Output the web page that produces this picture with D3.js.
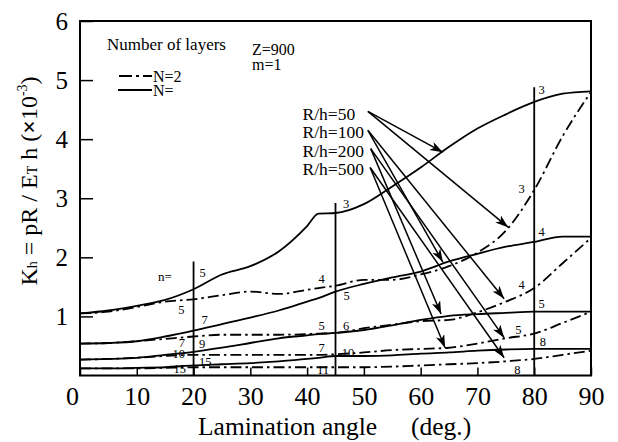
<!DOCTYPE html>
<html><head><meta charset="utf-8">
<script src="https://cdn.jsdelivr.net/npm/d3@7"></script>
<style>
body{margin:0;background:#fff}
svg{display:block}
text{font-family:"Liberation Serif","Times New Roman",serif;fill:#000}
</style>
</head><body>
<svg id="c" width="618" height="442"></svg>
<script>
// ---------- DATA ----------
const angles = [0,5,10,15,20,25,30,35,40,42,45,50,55,60,65,70,75,80,85,90];
// N = infinity (solid) and N = 2 (dash-dot), for each R/h
const rh50_solid   = [1.05,1.10,1.18,1.28,1.46,1.71,1.85,2.10,2.53,2.74,2.75,2.90,3.20,3.52,3.87,4.18,4.42,4.63,4.77,4.81];
const rh50_dash    = [1.05,1.08,1.16,1.25,1.29,1.36,1.42,1.38,1.45,1.48,1.52,1.62,1.62,1.71,1.85,2.08,2.45,3.14,4.05,4.80];
const rh100_solid  = [0.54,0.55,0.58,0.66,0.76,0.87,0.98,1.10,1.25,1.31,1.42,1.55,1.66,1.76,1.93,2.06,2.18,2.26,2.35,2.35];
const rh100_dash   = [0.54,0.55,0.58,0.62,0.66,0.69,0.69,0.69,0.70,0.71,0.72,0.80,0.86,0.92,0.94,1.07,1.25,1.48,1.90,2.33];
const rh200_solid  = [0.27,0.28,0.30,0.35,0.40,0.47,0.55,0.63,0.68,0.70,0.72,0.77,0.85,0.94,1.01,1.04,1.06,1.08,1.08,1.08];
const rh200_dash   = [0.27,0.28,0.30,0.33,0.35,0.35,0.35,0.35,0.35,0.35,0.36,0.39,0.43,0.45,0.47,0.54,0.63,0.71,0.89,1.08];
const rh500_solid  = [0.12,0.12,0.13,0.14,0.17,0.19,0.21,0.24,0.28,0.30,0.33,0.33,0.34,0.37,0.39,0.42,0.44,0.45,0.45,0.45];
const rh500_dash   = [0.12,0.12,0.12,0.13,0.14,0.14,0.14,0.14,0.14,0.14,0.14,0.14,0.15,0.17,0.19,0.21,0.24,0.28,0.35,0.42];

const xTicks = [0,10,20,30,40,50,60,70,80,90];
const yTicks = [1,2,3,4,5,6];

// vertical guide lines at marked angles (angle, top value)
const guideAngles = [20,45,80];
const guideTops = [1.93,2.92,4.88];

// wave-number labels (angle, value, text)
const nLabels = [
  [21.6,1.735,"5"],[17.84,1.109,"5"],[21.96,0.939,"7"],[17.96,0.555,"7"],
  [21.49,0.545,"9"],[17.38,0.364,"10"],[22.07,0.234,"15"],[17.56,0.122,"15"],
  [46.85,2.903,"3"],[42.57,1.645,"4"],[46.97,1.346,"5"],[42.57,0.838,"5"],
  [46.85,0.838,"6"],[42.57,0.477,"7"],[47.2,0.386,"10"],[42.8,0.093,"11"],
  [81.31,4.844,"3"],[77.79,3.157,"3"],[81.31,2.434,"4"],[77.79,1.532,"4"],
  [81.31,1.222,"5"],[77.19,0.770,"5"],[81.54,0.572,"8"],[77.02,0.093,"8"]
];
const nEqLabel = [14.97,1.684,"n="];

// R/h annotations
const rhNames = ["R/h=50","R/h=100","R/h=200","R/h=500"];
const rhLabelPos = [[39.2,4.325],[39.2,4.015],[39.2,3.704],[39.2,3.393]];
const arrowFrom = [[50.7,4.47],[50.7,4.15],[51.2,3.84],[51.1,3.52]];
const arrowTo = [
  [[63.9,3.78],[75.4,2.51]],
  [[63.9,1.92],[74.7,1.30]],
  [[63.6,1.04],[74.7,0.64]],
  [[64.3,0.47],[74.7,0.30]]
];

// ---------- CHART ----------
const svg = d3.select("#c");
const x = d3.scaleLinear().domain([0,90]).range([80,591]);
const y = d3.scaleLinear().domain([0,6]).range([375.5,21]);

const defs = svg.append("defs");
defs.append("marker").attr("id","ah").attr("viewBox","0 0 13 9")
  .attr("refX",13).attr("refY",4.5).attr("markerWidth",13).attr("markerHeight",9)
  .attr("markerUnits","userSpaceOnUse").attr("orient","auto")
  .append("path").attr("d","M0,0 L13,4.5 L0,9 L3.5,4.5 Z").attr("fill","#000");

const DASH = "11,4,2.5,4";

// curves
const series = [
  {v:rh50_solid, dash:null},{v:rh50_dash, dash:DASH},
  {v:rh100_solid,dash:null},{v:rh100_dash,dash:DASH},
  {v:rh200_solid,dash:null},{v:rh200_dash,dash:DASH},
  {v:rh500_solid,dash:null},{v:rh500_dash,dash:DASH}
];
const line = d3.line().x(d=>x(d[0])).y(d=>y(d[1])).curve(d3.curveMonotoneX);
svg.append("g").selectAll("path").data(series).join("path")
  .attr("d",s=>line(angles.map((a,i)=>[a,s.v[i]])))
  .attr("fill","none").attr("stroke","#000").attr("stroke-width",1.8)
  .attr("stroke-dasharray",s=>s.dash);

// guide lines
svg.append("g").selectAll("line").data(guideAngles).join("line")
  .attr("x1",d=>x(d)).attr("x2",d=>x(d))
  .attr("y1",y(0)).attr("y2",(d,i)=>y(guideTops[i]))
  .attr("stroke","#000").attr("stroke-width",1.8);

// frame
svg.append("rect").attr("x",x(0)).attr("y",y(6)).attr("width",x(90)-x(0)).attr("height",y(0)-y(6))
  .attr("fill","none").attr("stroke","#000").attr("stroke-width",2);

// axes
const xAxis = d3.axisBottom(x).tickValues(xTicks).tickSize(-8).tickPadding(11).tickFormat(d3.format("d"));
const gx = svg.append("g").attr("transform",`translate(0,${y(0)})`).call(xAxis);
gx.select(".domain").remove();
gx.selectAll("line").attr("stroke","#000").attr("stroke-width",1.5);
gx.selectAll("text").attr("font-size",26).attr("font-family","Liberation Serif")
  .attr("dx",d=>d===0?-8:0);

const yAxis = d3.axisLeft(y).tickValues(yTicks).tickSize(-13).tickPadding(12).tickFormat(d3.format("d"));
const gy = svg.append("g").attr("transform",`translate(${x(0)},0)`).call(yAxis);
gy.select(".domain").remove();
gy.selectAll("line").attr("stroke","#000").attr("stroke-width",1.5);
gy.selectAll("text").attr("font-size",25).attr("font-family","Liberation Serif");

// axis titles
svg.append("text").attr("x",198).attr("y",435).attr("font-size",25.5).text("Lamination angle");
svg.append("text").attr("x",411).attr("y",435).attr("font-size",25.5).text("(deg.)");

const yt = svg.append("text").attr("transform","translate(37,181) rotate(-90)")
  .attr("text-anchor","middle").attr("font-size",24);
yt.append("tspan").text("K");
yt.append("tspan").attr("font-size",14).text("h");
yt.append("tspan").text(" = pR / E");
yt.append("tspan").attr("font-size",14).text("T");
yt.append("tspan").text(" h (");
yt.append("tspan").attr("font-weight","bold").text("×");
yt.append("tspan").text("10");
yt.append("tspan").attr("font-size",14).attr("dy",-10).text("-3");
yt.append("tspan").attr("dy",10).text(")");

// labels on curves
svg.append("g").selectAll("text").data(nLabels).join("text")
  .attr("x",d=>x(d[0])).attr("y",d=>y(d[1])).attr("dy","0.35em")
  .attr("text-anchor","middle").attr("font-size",12.5).text(d=>d[2]);
svg.append("text").attr("x",x(nEqLabel[0])).attr("y",y(nEqLabel[1])).attr("dy","0.35em")
  .attr("text-anchor","middle").attr("font-size",13).text(nEqLabel[2]);

// R/h labels and arrows
svg.append("g").selectAll("text").data(rhNames).join("text")
  .attr("x",(d,i)=>x(rhLabelPos[i][0])).attr("y",(d,i)=>y(rhLabelPos[i][1]))
  .attr("font-size",17.5).text(d=>d);
const arrows = [];
arrowTo.forEach((ts,i)=>ts.forEach(t=>arrows.push([arrowFrom[i],t])));
svg.append("g").selectAll("line").data(arrows).join("line")
  .attr("x1",d=>x(d[0][0])).attr("y1",d=>y(d[0][1]))
  .attr("x2",d=>x(d[1][0])).attr("y2",d=>y(d[1][1]))
  .attr("stroke","#000").attr("stroke-width",1.5).attr("marker-end","url(#ah)");

// legend
svg.append("text").attr("x",107).attr("y",50).attr("font-size",17).text("Number of layers");
svg.append("text").attr("x",252).attr("y",55).attr("font-size",16).text("Z=900");
svg.append("text").attr("x",252).attr("y",70).attr("font-size",16).text("m=1");
svg.append("line").attr("x1",119).attr("x2",152).attr("y1",76).attr("y2",76)
  .attr("stroke","#000").attr("stroke-width",1.8).attr("stroke-dasharray","13,4,3,4");
svg.append("text").attr("x",153).attr("y",82).attr("font-size",16).text("N=2");
svg.append("line").attr("x1",118).attr("x2",152).attr("y1",90).attr("y2",90)
  .attr("stroke","#000").attr("stroke-width",1.8);
svg.append("text").attr("x",153).attr("y",96).attr("font-size",16).text("N=");
</script>
</body></html>
